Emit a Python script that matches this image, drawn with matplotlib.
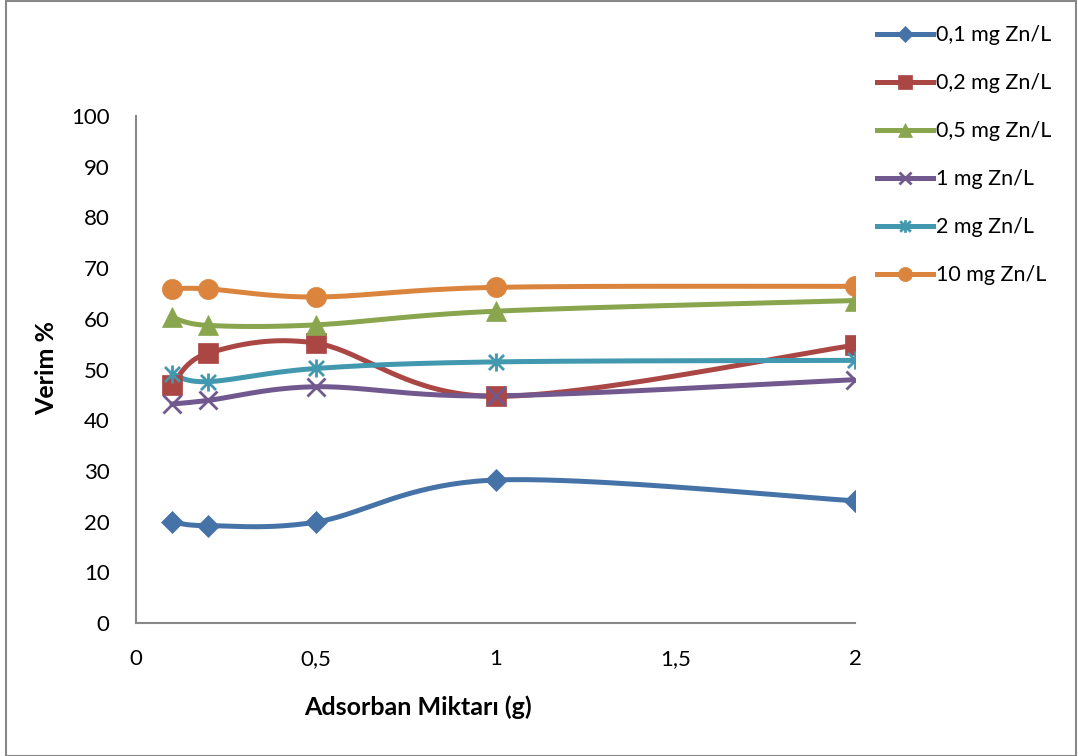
import numpy as np
import matplotlib.pyplot as plt
from matplotlib.path import Path
from matplotlib.patches import Rectangle

plt.rcParams['font.family'] = ['Lato', 'DejaVu Sans']

# adsorbent amount (g)
x = [0.1, 0.2, 0.5, 1, 2]

# yield % for each Zn concentration
zn_01 = [19.9, 19.2, 19.9, 28.2, 24.1]
zn_02 = [46.9, 53.2, 55.2, 44.7, 54.8]
zn_05 = [60.3, 58.7, 58.8, 61.5, 63.6]
zn_1 = [43.2, 43.9, 46.6, 44.8, 48.0]
zn_2 = [49.1, 47.6, 50.2, 51.5, 51.8]
zn_10 = [65.9, 65.9, 64.3, 66.2, 66.4]

labels = ['0,1 mg Zn/L', '0,2 mg Zn/L', '0,5 mg Zn/L',
          '1 mg Zn/L', '2 mg Zn/L', '10 mg Zn/L']
xticks = [0, 0.5, 1, 1.5, 2]
xtick_labels = ['0', '0,5', '1', '1,5', '2']
yticks = [0, 10, 20, 30, 40, 50, 60, 70, 80, 90, 100]

colors = ['#4572A7', '#AA4643', '#89A54E', '#71588F', '#4198AF', '#DB843D']

# excel style "star" marker: an x with a vertical bar
star = Path([(-1, -1), (1, 1), (-1, 1), (1, -1), (0, -1.2), (0, 1.2)],
            [Path.MOVETO, Path.LINETO, Path.MOVETO, Path.LINETO,
             Path.MOVETO, Path.LINETO])
markers = ['D', 's', '^', 'x', star, 'o']
msizes = [11, 14, 14, 13, 13, 14.5]


def smooth(xs, ys, n=40):
    # catmull-rom style bezier, like excel's smoothed line
    p = np.column_stack([xs, ys]).astype(float)
    out = []
    for i in range(len(p) - 1):
        p0 = p[i - 1] if i > 0 else p[i]
        p3 = p[i + 2] if i + 2 < len(p) else p[i + 1]
        c1 = p[i] + (p[i + 1] - p0) / 6
        c2 = p[i + 1] - (p3 - p[i]) / 6
        t = np.linspace(0, 1, n)[:, None]
        seg = ((1 - t) ** 3 * p[i] + 3 * (1 - t) ** 2 * t * c1
               + 3 * (1 - t) * t ** 2 * c2 + t ** 3 * p[i + 1])
        out.append(seg if i == 0 else seg[1:])
    out = np.vstack(out)
    return out[:, 0], out[:, 1]


fig = plt.figure(figsize=(10.78, 7.56), dpi=100)
ax = fig.add_axes([136 / 1078, 133 / 756, 719 / 1078, 507 / 756])

series = [zn_01, zn_02, zn_05, zn_1, zn_2, zn_10]
handles = []
for ys, c, m, ms, lab in zip(series, colors, markers, msizes, labels):
    sx, sy = smooth(x, ys)
    ax.plot(sx, sy, color=c, lw=3.6, solid_capstyle='round', zorder=2)
    mew = 2 if m in ('x',) or m is star else 0.5
    ax.plot(x, ys, ls='none', marker=m, ms=ms, color=c, mec=c, mew=mew, zorder=3)
    h, = ax.plot([], [], color=c, lw=3.6, marker=m, ms=ms, mec=c, mew=mew,
                 label=lab)
    handles.append(h)

ax.set_xlim(0, 2)
ax.set_ylim(0, 100)
ax.set_xticks(xticks)
ax.set_xticklabels(xtick_labels)
ax.set_yticks(yticks)
ax.tick_params(length=0, labelsize=16)
ax.tick_params(axis='y', pad=19)
ax.tick_params(axis='x', pad=19)
for s in ['top', 'right']:
    ax.spines[s].set_visible(False)
for s in ['left', 'bottom']:
    ax.spines[s].set_color('#888888')
    ax.spines[s].set_linewidth(1.5)

fig.text(47 / 1078, 1 - 368 / 756, 'Verim %', rotation=90, ha='center',
         va='center', fontsize=18, fontweight='bold')
fig.text(418 / 1078, 1 - 707 / 756, 'Adsorban Miktarı (g)', ha='center',
         va='center', fontsize=18, fontweight='bold')

fig.legend(handles=handles, loc='upper left',
           bbox_to_anchor=(858 / 1078, 1 - 6 / 756), frameon=False,
           fontsize=15.5, markerscale=0.7, handlelength=2.6, handletextpad=0.1,
           labelspacing=1.3)

fig.patches.append(Rectangle((6 / 1078, 0.5 / 756), 1070 / 1078, 754.5 / 756,
                             transform=fig.transFigure, fill=False,
                             edgecolor='#888888', lw=1.5))

fig.savefig('out.png', dpi=100)
